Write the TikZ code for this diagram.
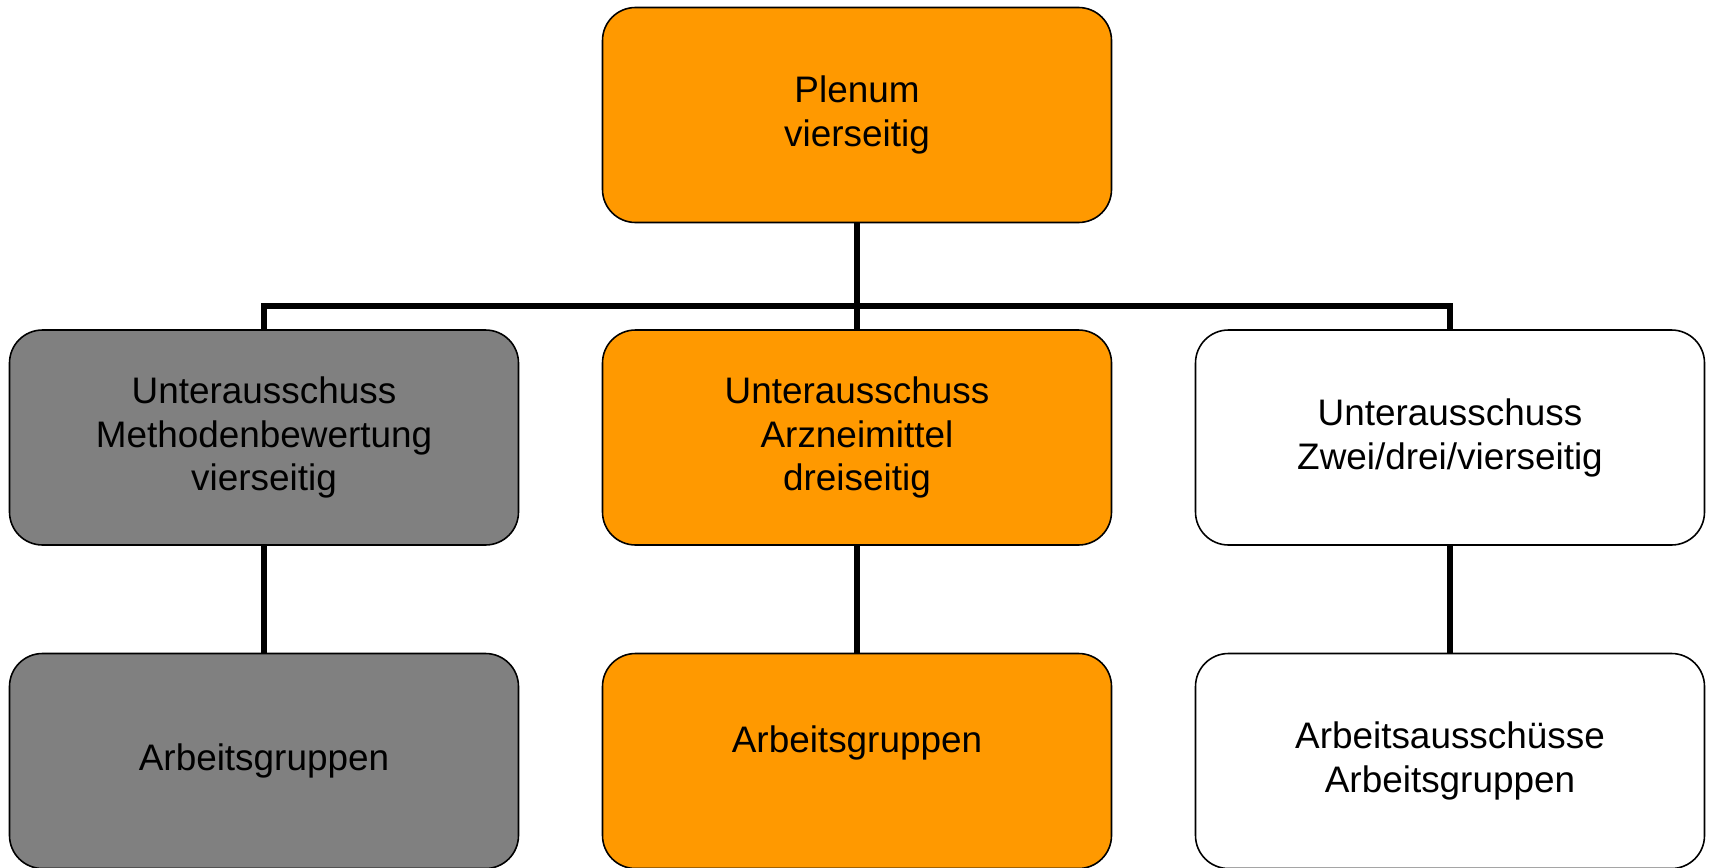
\documentclass[tikz,border=0pt]{standalone}
\usepackage{fontspec}
\setmainfont{Liberation Sans}
\usetikzlibrary{positioning}
\definecolor{gbaorange}{HTML}{FF9900}
\definecolor{gbagray}{HTML}{808080}
\tikzset
{
    % Style for the committee boxes
    board/.style=
    {
        draw=black,
        line width=0.45pt,
        rounded corners=3.3mm,
        minimum width=50.9mm,
        minimum height=21.5mm,
        align=center,
        inner sep=0pt,
        font=\fontsize{10.5}{12.5}\selectfont
    },
    % Fill variants
    orange board/.style={board, fill=gbaorange},
    gray board/.style={board, fill=gbagray},
    white board/.style={board, fill=white},
    % Style for the organisation lines
    link/.style=
    {
        line width=1.7pt,
        black
    }
}

\begin{document}
\begin{tikzpicture}[x=0.1mm,y=-0.1mm]
    % Fix the page to the size of the reference
    \useasboundingbox (0,0) rectangle (1710,868);

    % Top level
    \node (plenum) [orange board] at (857,115) {Plenum\\vierseitig};

    % Sub committees
    \node (uamb) [gray board]   at (264,437.5) {Unterausschuss\\Methodenbewertung\\vierseitig};
    \node (uaam) [orange board] at (857,437.5) {Unterausschuss\\Arzneimittel\\dreiseitig};
    \node (uazd) [white board]  at (1450,437.5) {Unterausschuss\\Zwei/drei/vierseitig};

    % Working groups
    \node (agmb) [gray board]   at (264,761) {Arbeitsgruppen};
    \node (agam) [orange board] at (857,761) {Arbeitsgruppen\\\mbox{}};
    \node (agzd) [white board]  at (1450,761) {Arbeitsausschüsse\\Arbeitsgruppen};

    % Connections
    \coordinate (bus) at (857,306);
    \draw[link] (plenum.south) -- (uaam.north);
    \draw[link] (uamb.north) |- (bus) -| (uazd.north);
    \draw[link] (uamb.south) -- (agmb.north);
    \draw[link] (uaam.south) -- (agam.north);
    \draw[link] (uazd.south) -- (agzd.north);
\end{tikzpicture}
\end{document}
